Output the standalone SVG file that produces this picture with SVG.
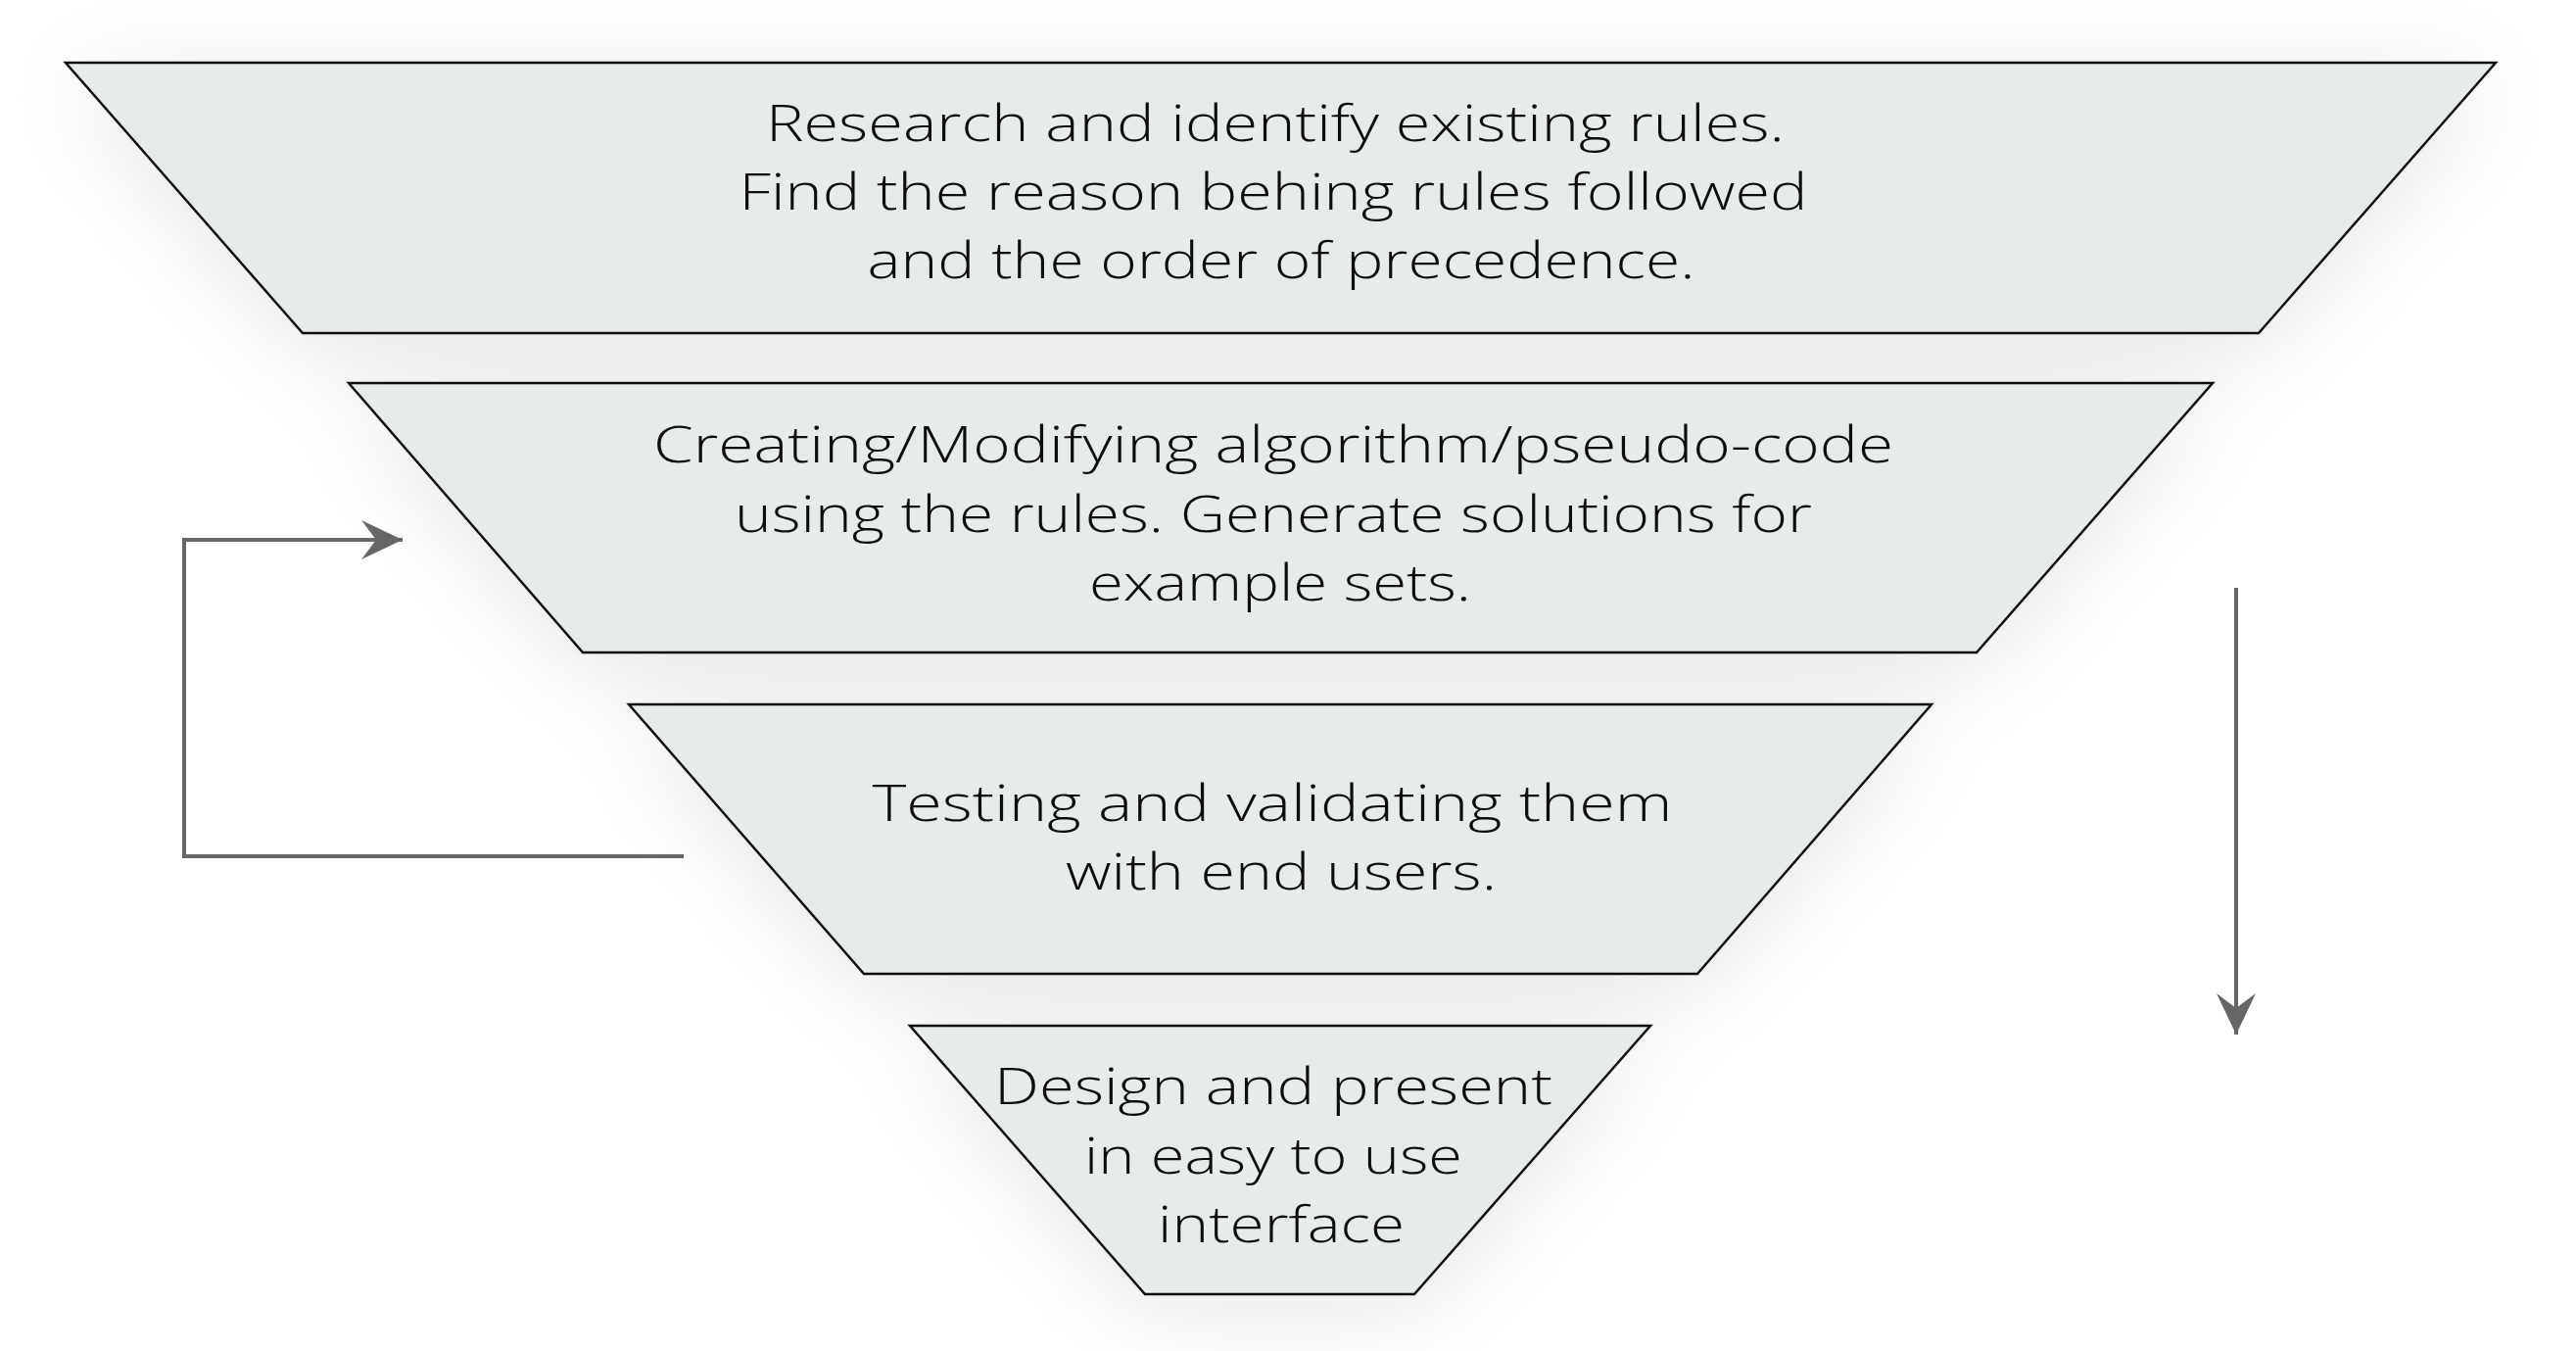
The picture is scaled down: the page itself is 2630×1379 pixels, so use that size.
<svg xmlns="http://www.w3.org/2000/svg" width="2630" height="1379" viewBox="0 0 2630 1379">
  <defs>
    <filter id="halo" x="-20%" y="-40%" width="140%" height="180%">
      <feGaussianBlur in="SourceAlpha" stdDeviation="50" result="b"/>
      <feOffset in="b" dx="0" dy="15" result="o"/>
      <feComponentTransfer in="o" result="s">
        <feFuncA type="linear" slope="0.10"/>
      </feComponentTransfer>
      <feMerge>
        <feMergeNode in="s"/>
        <feMergeNode in="SourceGraphic"/>
      </feMerge>
    </filter>
    <marker id="arrow" viewBox="0 0 42 40" refX="42" refY="20" markerWidth="42" markerHeight="40" markerUnits="userSpaceOnUse" orient="auto">
      <path d="M0,0 L42,20 L0,40 L15,20 Z" fill="#666666"/>
    </marker>
  </defs>
  <style>
    .stage { fill: #e7ebec; stroke: #111111; stroke-width: 2.5; stroke-linejoin: miter; }
    .label { font-family: "Open Sans", "Lato", "Liberation Sans", sans-serif; font-weight: 300; font-size: 52px; fill: #111111; text-anchor: middle; }
    .conn { fill: none; stroke: #666666; stroke-width: 4; }
  </style>
  <rect width="2630" height="1379" fill="#ffffff"/>
  <g filter="url(#halo)">
    <g id="stage1">
      <polygon class="stage" points="67,64 2548,64 2306,340 309,340"/>
      <text class="label" x="1302" y="144" textLength="1040" lengthAdjust="spacingAndGlyphs">Research and identify existing rules.</text>
      <text class="label" x="1300" y="214" textLength="1091" lengthAdjust="spacingAndGlyphs">Find the reason behing rules followed</text>
      <text class="label" x="1308" y="284" textLength="845" lengthAdjust="spacingAndGlyphs">and the order of precedence.</text>
    </g>
    <g id="stage2">
      <polygon class="stage" points="356,391 2259,391 2018,666 595,666"/>
      <text class="label" x="1300" y="472" textLength="1266" lengthAdjust="spacingAndGlyphs">Creating/Modifying algorithm/pseudo-code</text>
      <text class="label" x="1300" y="543" textLength="1100" lengthAdjust="spacingAndGlyphs">using the rules. Generate solutions for</text>
      <text class="label" x="1307" y="613" textLength="390" lengthAdjust="spacingAndGlyphs">example sets.</text>
    </g>
    <g id="stage3">
      <polygon class="stage" points="642,719 1972,719 1733,994 882,994"/>
      <text class="label" x="1299" y="838" textLength="817" lengthAdjust="spacingAndGlyphs">Testing and validating them</text>
      <text class="label" x="1308" y="908" textLength="440" lengthAdjust="spacingAndGlyphs">with end users.</text>
    </g>
    <g id="stage4">
      <polygon class="stage" points="929,1047 1685,1047 1444,1321 1169,1321"/>
      <text class="label" x="1300" y="1127" textLength="570" lengthAdjust="spacingAndGlyphs">Design and present</text>
      <text class="label" x="1300" y="1198" textLength="386" lengthAdjust="spacingAndGlyphs">in easy to use</text>
      <text class="label" x="1308" y="1268" textLength="252" lengthAdjust="spacingAndGlyphs">interface</text>
    </g>
  </g>
  <g id="connectors">
    <polyline class="conn" points="698,874 188,874 188,551 411,551" marker-end="url(#arrow)"/>
    <line class="conn" x1="2283" y1="600" x2="2283" y2="1056" marker-end="url(#arrow)"/>
  </g>
</svg>
